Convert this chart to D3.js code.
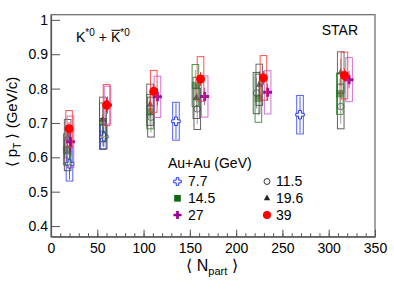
<!DOCTYPE html>
<html>
<head>
<meta charset="utf-8">
<script src="https://cdn.jsdelivr.net/npm/d3@7"></script>
<style>
  body { margin: 0; background: #fff; }
  svg { display: block; font-family: "Liberation Sans", Arial, Helvetica, sans-serif; }
</style>
</head>
<body>
<div id="chart"></div>
<script>
// <Npart>, <pT> and systematic / statistical errors for each energy
const npart77 = [20, 57, 135, 269];
const val77 = [0.581, 0.66, 0.705, 0.724];
const sys77 = [0.05, 0.035, 0.055, 0.056];
const stat77 = [0.046, 0.03, 0.052, 0.053];

const npart115 = [18, 56, 108, 158, 222, 313];
const val115 = [0.606, 0.668, 0.717, 0.741, 0.787, 0.748];
const sys115 = [0.045, 0.045, 0.058, 0.06, 0.06, 0.065];
const stat115 = [0.035, 0.035, 0.045, 0.045, 0.045, 0.05];

const npart145 = [17, 56, 107, 156, 224, 312];
const val145 = [0.623, 0.702, 0.733, 0.809, 0.772, 0.785];
const sys145 = [0.045, 0.056, 0.05, 0.061, 0.07, 0.06];
const stat145 = [0.035, 0.04, 0.04, 0.045, 0.05, 0.045];

const npart196 = [18, 56, 107, 157, 225, 313];
const val196 = [0.66, 0.71, 0.753, 0.773, 0.811, 0.847];
const sys196 = [0.05, 0.065, 0.06, 0.06, 0.06, 0.06];
const stat196 = [0.035, 0.045, 0.04, 0.04, 0.04, 0.04];

const npart27 = [21, 61, 115, 166, 234, 322];
const val27 = [0.645, 0.752, 0.776, 0.777, 0.789, 0.826];
const sys27 = [0.075, 0.055, 0.06, 0.06, 0.063, 0.064];
const stat27 = [0.03, 0.025, 0.025, 0.025, 0.025, 0.025];

const npart39 = [19.5, 60, 111, 161.5, 229.5, 317];
const val39 = [0.683, 0.752, 0.792, 0.828, 0.831, 0.838];
const sys39 = [0.053, 0.06, 0.061, 0.065, 0.065, 0.068];
const stat39 = [0.02, 0.02, 0.02, 0.02, 0.02, 0.02];

const energies = ["7.7", "11.5", "14.5", "19.6", "27", "39"];
const xTicks = [0, 50, 100, 150, 200, 250, 300, 350];
const yTicks = [0.4, 0.5, 0.6, 0.7, 0.8, 0.9, 1];

// marker / colour settings per energy
const series = [
    { e: "7.7", n: npart77, v: val77, s: sys77, st: stat77, marker: "ocross", col: "#2233ff", box: "#3344ff", op: 1 },
    { e: "11.5", n: npart115, v: val115, s: sys115, st: stat115, marker: "ocircle", col: "#333", box: "#444", op: 0.6 },
    { e: "14.5", n: npart145, v: val145, s: sys145, st: stat145, marker: "square", col: "#0f6a0f", box: "#2a842a", op: 0.55 },
    { e: "19.6", n: npart196, v: val196, s: sys196, st: stat196, marker: "triangle", col: "#222", box: "#505050", op: 0.6 },
    { e: "27", n: npart27, v: val27, s: sys27, st: stat27, marker: "cross", col: "#990099", box: "#cc55cc", op: 0.9 },
    { e: "39", n: npart39, v: val39, s: sys39, st: stat39, marker: "circle", col: "#ff0000", box: "#ff3333", op: 1 }
];

const W = 394, H = 289;
const padL = 51, padR = 375, padT = 14.7, padB = 236.7;

const svg = d3.select("#chart").append("svg")
    .attr("width", W)
    .attr("height", H);

const x = d3.scaleLinear().domain([0, 350]).range([padL, padR]);
const y = d3.scaleLinear().domain([0.369, 1.015]).range([padB, padT]);

function crossPath(sz) {
    const h = sz / 2, a = sz / 6;
    return `M${-a},${-h}H${a}V${-a}H${h}V${a}H${a}V${h}H${-a}V${a}H${-h}V${-a}H${-a}Z`;
}

function drawMarker(g, type, col, op, scale) {
    const k = scale || 1;
    let m;
    if (type === "circle") {
        m = g.append("circle").attr("r", 4.5 * k).attr("fill", col);
    } else if (type === "ocircle") {
        m = g.append("circle").attr("r", 3.3 * k).attr("fill", "none").attr("stroke", col).attr("stroke-width", 1);
    } else if (type === "square") {
        m = g.append("rect").attr("x", -3.7 * k).attr("y", -3.7 * k)
            .attr("width", 7.4 * k).attr("height", 7.4 * k).attr("fill", col);
    } else if (type === "triangle") {
        m = g.append("path").attr("d", d3.symbol(d3.symbolTriangle, 22 * k * k)()).attr("fill", col);
    } else if (type === "cross") {
        m = g.append("path").attr("d", crossPath(9 * k)).attr("fill", col);
    } else if (type === "ocross") {
        m = g.append("path").attr("d", crossPath(8.5 * k)).attr("fill", "#fff")
            .attr("stroke", col).attr("stroke-width", 1);
    }
    m.attr("opacity", op);
}

// frame
svg.append("rect")
    .attr("x", padL).attr("y", padT)
    .attr("width", padR - padL).attr("height", padB - padT)
    .attr("fill", "none").attr("stroke", "#666").attr("stroke-width", 1.2);

// data: boxes, stat lines, markers
series.forEach(sr => {
    const g = svg.append("g");
    const pts = sr.n.map((n, i) => ({ n: n, v: sr.v[i], s: sr.s[i], st: sr.st[i] }));

    g.selectAll(".box").data(pts).enter().append("rect")
        .attr("x", d => x(d.n) - 3.3)
        .attr("y", d => y(d.v + d.s))
        .attr("width", 6.6)
        .attr("height", d => y(d.v - d.s) - y(d.v + d.s))
        .attr("fill", "none")
        .attr("stroke", sr.box)
        .attr("stroke-opacity", 0.85)
        .attr("stroke-width", 1);

    g.selectAll(".err").data(pts).enter().append("line")
        .attr("x1", d => x(d.n)).attr("x2", d => x(d.n))
        .attr("y1", d => y(d.v + d.st))
        .attr("y2", d => y(d.v - d.st))
        .attr("stroke", sr.col)
        .attr("stroke-opacity", sr.op * 0.8)
        .attr("stroke-width", 1);

    pts.forEach(d => {
        const mg = g.append("g").attr("transform", `translate(${x(d.n)},${y(d.v)})`);
        drawMarker(mg, sr.marker, sr.col, sr.op);
    });
});

// y axis
const yAxis = svg.append("g")
    .attr("transform", `translate(${padL},0)`)
    .call(d3.axisLeft(y).tickValues(yTicks).tickSize(-9).tickSizeOuter(0).tickPadding(3)
        .tickFormat(d => d === 1 ? "1" : d3.format(".1f")(d)));
yAxis.select(".domain").attr("stroke", "#555").attr("stroke-width", 1.2);
yAxis.selectAll(".tick line").attr("stroke", "#555");
yAxis.selectAll("text").attr("font-size", 14).attr("fill", "#000")
    .attr("font-family", "'Liberation Sans', Arial, sans-serif");

// x axis: minor then major
const xMinor = svg.append("g")
    .attr("transform", `translate(0,${padB})`)
    .call(d3.axisBottom(x).tickValues(d3.range(0, 351, 10)).tickSize(-3.5).tickSizeOuter(0).tickFormat(""));
xMinor.select(".domain").remove();
xMinor.selectAll(".tick line").attr("stroke", "#555");

const xAxis = svg.append("g")
    .attr("transform", `translate(0,${padB})`)
    .call(d3.axisBottom(x).tickValues(xTicks).tickSize(-7).tickSizeOuter(0).tickPadding(6.5));
xAxis.select(".domain").attr("stroke", "#555").attr("stroke-width", 1.2);
xAxis.selectAll(".tick line").attr("stroke", "#555");
xAxis.selectAll("text").attr("font-size", 14).attr("fill", "#000")
    .attr("font-family", "'Liberation Sans', Arial, sans-serif");

// axis titles
const yTitle = svg.append("text")
    .attr("transform", "translate(17,122) rotate(-90)")
    .attr("text-anchor", "middle")
    .attr("font-size", 15);
yTitle.append("tspan").text("\u27E8 p");
yTitle.append("tspan").attr("font-size", 10).attr("dy", 4).text("T");
yTitle.append("tspan").attr("dy", -4).text(" \u27E9 (GeV/c)");

const xTitle = svg.append("text")
    .attr("x", 212).attr("y", 271)
    .attr("text-anchor", "middle")
    .attr("font-size", 16);
xTitle.append("tspan").text("\u27E8 N");
xTitle.append("tspan").attr("font-size", 11).attr("dy", 4).text("part");
xTitle.append("tspan").attr("dy", -4).text(" \u27E9");

// particle label
const k1 = svg.append("text").attr("x", 76).attr("y", 42.3).attr("font-size", 14);
k1.append("tspan").text("K");
k1.append("tspan").attr("font-size", 10).attr("dy", -6).text("*0");
k1.append("tspan").attr("dy", 6).text(" +");
const k2 = svg.append("text").attr("x", 111).attr("y", 42.3).attr("font-size", 14);
k2.append("tspan").text("K");
k2.append("tspan").attr("font-size", 10).attr("dy", -6).text("*0");
svg.append("line")
    .attr("x1", 111.5).attr("x2", 120.5).attr("y1", 30.3).attr("y2", 30.3)
    .attr("stroke", "#000").attr("stroke-width", 1);

svg.append("text")
    .attr("x", 358).attr("y", 35)
    .attr("text-anchor", "end")
    .attr("font-size", 14)
    .text("STAR");

// legend
svg.append("text")
    .attr("x", 168).attr("y", 168.3)
    .attr("font-size", 14)
    .text("Au+Au (GeV)");

const legendPos = [
    { mx: 177.5, my: 181.5 }, { mx: 267, my: 181.5 },
    { mx: 177.5, my: 198.3 }, { mx: 267, my: 198.3 },
    { mx: 177.5, my: 215 }, { mx: 267, my: 215 }
];
const legendOrder = ["7.7", "11.5", "14.5", "19.6", "27", "39"];
legendOrder.forEach((e, i) => {
    const sr = series.find(s => s.e === e);
    const p = legendPos[i];
    const mg = svg.append("g").attr("transform", `translate(${p.mx},${p.my})`);
    drawMarker(mg, sr.marker, sr.col, 1, 0.9);
    svg.append("text")
        .attr("x", p.mx + (i % 2 === 0 ? 10.5 : 9))
        .attr("y", p.my + 4.6)
        .attr("font-size", 14)
        .text(e);
});
</script>
</body>
</html>
